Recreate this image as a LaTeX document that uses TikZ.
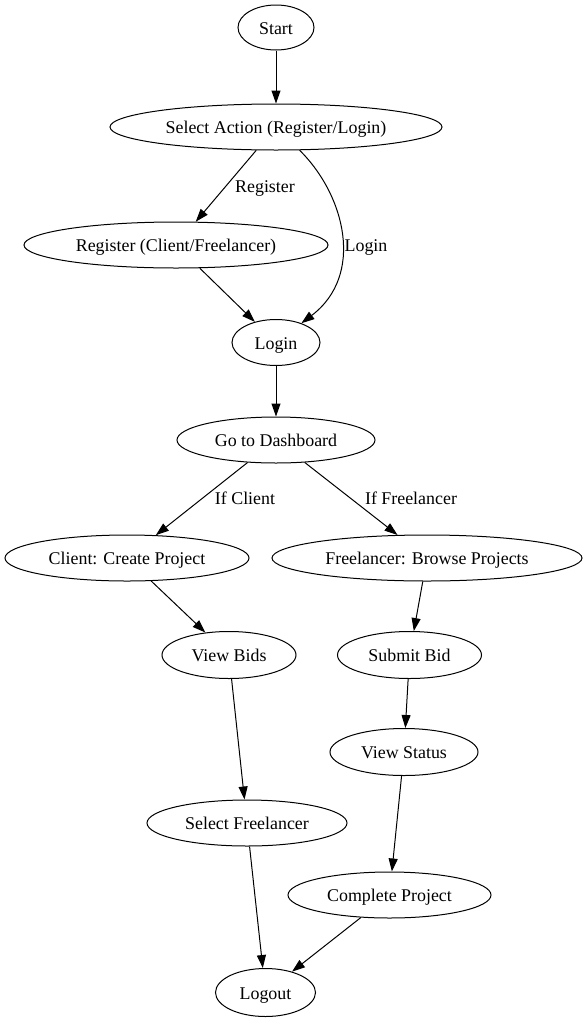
\documentclass[tikz,border=0pt]{standalone}
\usepackage{fontspec}
\setmainfont{Liberation Serif}
\usetikzlibrary{shapes.geometric,arrows.meta}
\begin{document}
\begin{tikzpicture}[x=1pt,y=-1pt,
  every node/.style={font=\fontsize{17.9}{21}\selectfont,text height=17pt,text depth=4pt},
  st/.style={draw,ellipse,line width=1pt,inner sep=0pt,minimum height=46pt},
  lbl/.style={inner sep=0pt},
  edge/.style={draw,line width=1pt,-{Triangle[length=13pt,width=9pt]}}]
\useasboundingbox (0,0) rectangle (586,1023);
\node[st,minimum width=76pt,minimum height=45pt] (start) at (276,27.5) {Start};
\node[st,minimum width=332pt] (sel) at (276,127) {Select Action (Register/Login)};
\node[st,minimum width=304pt] (reg) at (176,245) {Register (Client/Freelancer)};
\node[st,minimum width=88pt] (login) at (276,342.5) {Login};
\node[st,minimum width=198pt] (dash) at (276,440) {Go to Dashboard};
\node[st,minimum width=244pt] (client) at (127,558) {Client: Create Project};
\node[st,minimum width=310pt] (free) at (427,558) {Freelancer: Browse Projects};
\node[st,minimum width=134pt,minimum height=47pt] (bids) at (229,655) {View Bids};
\node[st,minimum width=144pt,minimum height=47pt] (submit) at (409.5,655) {Submit Bid};
\node[st,minimum width=148pt,minimum height=47pt] (status) at (404,752) {View Status};
\node[st,minimum width=200pt] (selfree) at (247,823) {Select Freelancer};
\node[st,minimum width=203pt] (complete) at (389.5,895) {Complete Project};
\node[st,minimum width=100pt,minimum height=48pt] (logout) at (265.5,992.5) {Logout};
\draw[edge] (start) -- (sel);
\draw[edge] (sel) -- (reg);
\draw[edge] (sel) .. controls (345,195) and (365,275) .. (login);
\draw[edge] (reg) -- (login);
\draw[edge] (login) -- (dash);
\draw[edge] (dash) -- (client);
\draw[edge] (dash) -- (free);
\draw[edge] (client) -- (bids);
\draw[edge] (free) -- (submit);
\draw[edge] (submit) -- (status);
\draw[edge] (bids) -- (selfree);
\draw[edge] (status) -- (complete);
\draw[edge] (selfree) -- (logout);
\draw[edge] (complete) -- (logout);
\node[lbl] (lreg) at (265,186) {Register};
\node[lbl] (llogin) at (366,245) {Login};
\node[lbl] (lclient) at (245,498) {If Client};
\node[lbl] (lfree) at (411,498) {If Freelancer};
\end{tikzpicture}
\end{document}
